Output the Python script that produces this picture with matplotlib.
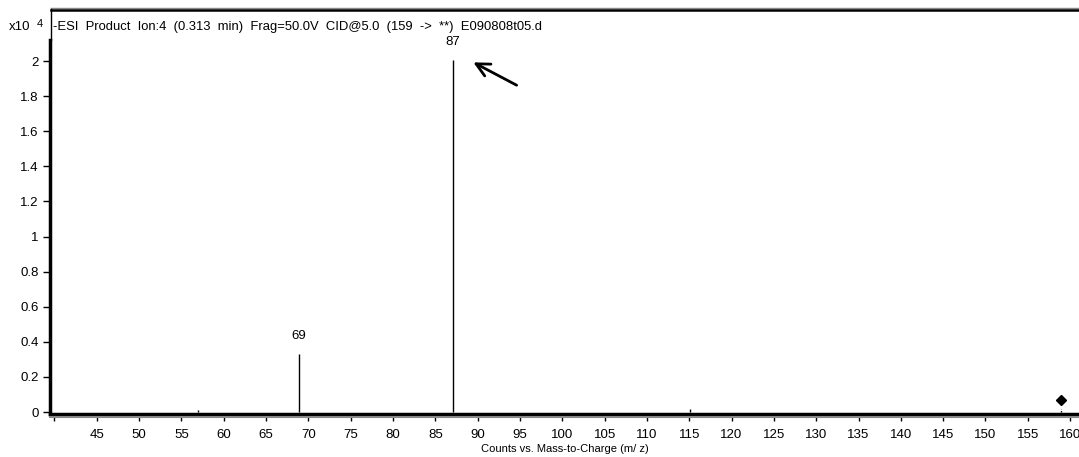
import numpy as np
import matplotlib
matplotlib.use("Agg")
import matplotlib.pyplot as plt
from matplotlib.lines import Line2D

plt.rcParams['font.family'] = ['Liberation Sans', 'DejaVu Sans']

# spectrum (m/z, counts x10^4)
mz = [57.0, 68.9, 87.1, 115.1]
counts = [0.012, 0.33, 2.005, 0.02]
peak_labels = {68.9: "69", 87.1: "87"}
precursor_mz = 158.9
precursor_y = 0.066

xticks = np.arange(40, 161, 5)
yticks = [0, 0.2, 0.4, 0.6, 0.8, 1.0, 1.2, 1.4, 1.6, 1.8, 2.0]
ytick_labels = ["0", "0.2", "0.4", "0.6", "0.8", "1", "1.2", "1.4", "1.6", "1.8", "2"]

W, H = 1079, 457
fig = plt.figure(figsize=(W / 100, H / 100), dpi=100)
ax = fig.add_axes([50 / W, (H - 414) / H, (W - 50) / W, (414 - 40) / H])

ax.vlines(mz, 0, counts, color="black", lw=1)
for x, lab in peak_labels.items():
    y = counts[mz.index(x)]
    ax.text(x, y + 0.07, lab, ha="center", va="bottom", fontsize=9.5)
ax.vlines([precursor_mz], 0, 0.02, color="black", lw=1, linestyles=(0, (1, 1)))
ax.plot([precursor_mz], [precursor_y], marker="D", ms=5, color="black")

ax.annotate("", xy=(89.2, 2.0), xytext=(94.9, 1.855),
            arrowprops=dict(arrowstyle="->", lw=2, color="black", mutation_scale=24))

ax.set_xlim(39.48, 161.05)
ax.set_ylim(-0.011, 2.12)
ax.set_xticks(xticks)
ax.set_xticklabels(["" if t == 40 else str(t) for t in xticks])
ax.set_yticks(yticks)
ax.set_yticklabels(ytick_labels)
ax.tick_params(axis="both", direction="out", length=5, width=1, labelsize=9.5)
ax.tick_params(axis="x", pad=6)
ax.tick_params(axis="y", pad=3)

for s in ["top", "right"]:
    ax.spines[s].set_visible(False)
ax.spines["left"].set_linewidth(2.5)
ax.spines["bottom"].set_linewidth(2.5)

ax.set_xlabel("Counts vs. Mass-to-Charge (m/ z)", fontsize=8, labelpad=2)

# outer frame lines and shadow
def fl(x0, y0, x1, y1, **kw):
    fig.add_artist(Line2D([x0 / W, x1 / W], [1 - y0 / H, 1 - y1 / H], **kw))

fl(51, 8, W, 8, color="#888888", lw=1)
fl(51, 10, W, 10, color="black", lw=1.8)
fl(51, 9, 51, 40, color="black", lw=1)
fl(50, 416.8, W, 416.8, color="#888888", lw=1.5)

fig.text(53 / W, 1 - 27 / H,
         "-ESI  Product  Ion:4  (0.313  min)  Frag=50.0V  CID@5.0  (159  ->  **)  E090808t05.d",
         ha="left", va="center", fontsize=9.4)
fig.text(9 / W, 1 - 27 / H, "x10", ha="left", va="center", fontsize=9.5)
fig.text(37 / W, 1 - 24 / H, "4", ha="left", va="center", fontsize=8)

fig.savefig("out.png", dpi=100)
